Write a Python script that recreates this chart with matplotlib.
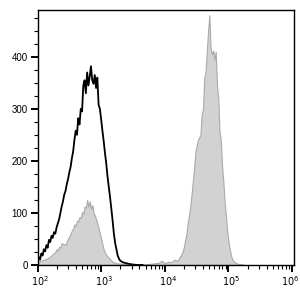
import numpy as np
import matplotlib
matplotlib.use("Agg")
import matplotlib.pyplot as plt
import matplotlib.transforms as mtransforms
from matplotlib.ticker import LogLocator, MultipleLocator, FixedLocator

plt.rcParams['font.family'] = ['Liberation Sans', 'DejaVu Sans']

# black outline histogram (log10 of intensity, count)
black_logx = [2.00, 2.02, 2.04, 2.06, 2.08, 2.10, 2.12, 2.14, 2.16, 2.18, 2.20, 2.22, 2.24, 2.26, 2.28,
              2.30, 2.32, 2.34, 2.36, 2.38, 2.40, 2.42, 2.44, 2.46, 2.48, 2.50, 2.52, 2.54, 2.56, 2.58,
              2.60, 2.62, 2.64, 2.66, 2.68, 2.70, 2.72, 2.74, 2.76, 2.78, 2.80, 2.82, 2.84, 2.86, 2.88,
              2.90, 2.92, 2.94, 2.96, 2.98, 3.00, 3.02, 3.04, 3.06, 3.08, 3.10, 3.12, 3.14, 3.16, 3.18,
              3.20, 3.22, 3.24, 3.26, 3.28, 3.30, 3.34, 3.40, 3.48, 3.55, 3.65]
black_count = [8, 15, 10, 22, 18, 30, 26, 38, 33, 48, 44, 56, 52, 63, 60,
               72, 80, 88, 100, 112, 122, 135, 142, 155, 165, 178, 188, 205, 218, 240,
               258, 250, 282, 270, 300, 295, 345, 355, 330, 370, 345, 362, 382, 355, 348,
               365, 340, 360, 308, 300, 280, 258, 238, 215, 195, 170, 150, 130, 108, 85,
               60, 42, 30, 18, 12, 8, 5, 3, 1, 0, 0]

# grey filled histogram
grey_logx = [2.00, 2.05, 2.10, 2.15, 2.20, 2.25, 2.28, 2.30, 2.32, 2.34, 2.36, 2.38, 2.40, 2.42, 2.44,
             2.46, 2.48, 2.50, 2.52, 2.54, 2.56, 2.58, 2.60, 2.62, 2.64, 2.66, 2.68, 2.70, 2.72, 2.74,
             2.76, 2.78, 2.80, 2.82, 2.84, 2.86, 2.88, 2.90, 2.92, 2.94, 2.96, 2.98, 3.00, 3.02, 3.04,
             3.06, 3.08, 3.10, 3.14, 3.18, 3.25, 3.35, 3.50, 3.70, 3.90, 3.95, 4.00, 4.05, 4.10, 4.15,
             4.20, 4.25, 4.28, 4.30, 4.32, 4.34, 4.36, 4.38, 4.40, 4.42, 4.44, 4.46, 4.48, 4.50, 4.52,
             4.54, 4.56, 4.58, 4.60, 4.62, 4.64, 4.66, 4.68, 4.70, 4.72, 4.74, 4.76, 4.78, 4.80, 4.82,
             4.84, 4.86, 4.88, 4.90, 4.92, 4.94, 4.96, 4.98, 5.00, 5.02, 5.04, 5.06, 5.10, 5.15, 5.25]
grey_count = [5, 8, 10, 12, 16, 22, 25, 30, 28, 35, 33, 42, 40, 40, 38,
              45, 50, 55, 60, 66, 70, 78, 75, 85, 84, 92, 90, 102, 98, 112,
              110, 125, 112, 122, 108, 115, 100, 95, 88, 80, 70, 60, 50, 40, 30,
              24, 19, 16, 11, 6, 3, 2, 1, 1, 4, 8, 3, 6, 5, 10,
              8, 18, 25, 35, 48, 60, 80, 95, 112, 135, 160, 185, 215, 230, 240,
              245, 250, 290, 300, 360, 370, 410, 450, 480, 415, 405, 412, 395, 410, 345,
              320, 255, 240, 190, 160, 120, 95, 65, 45, 30, 18, 10, 5, 2, 0]

decades = [2, 3, 4, 5, 6]
y_major = [0, 100, 200, 300, 400]


def main():
	fig = plt.figure(figsize=(3.0, 2.94), dpi=100)
	ax = fig.add_axes([0.125, 0.099, 0.855, 0.867])

	gx = 10 ** np.array(grey_logx)
	ax.fill_between(gx, 0, grey_count, facecolor="#d2d2d2", edgecolor="#aaaaaa", linewidth=0.8)

	bx = 10 ** np.array(black_logx)
	ax.plot(bx, black_count, color="black", linewidth=1.3)

	ax.set_xscale("log")
	ax.set_xlim(100, 10 ** 6.03)
	ax.set_ylim(0, 490)

	ax.xaxis.set_major_locator(FixedLocator([10.0 ** d for d in decades]))
	ax.set_xticklabels(["$10^{%d}$" % d for d in decades])
	ax.xaxis.set_minor_locator(LogLocator(base=10, subs=np.arange(2, 10), numticks=20))
	ax.yaxis.set_major_locator(FixedLocator(y_major))
	ax.yaxis.set_minor_locator(MultipleLocator(25))

	ax.tick_params(which="major", direction="out", length=5, width=1.4, labelsize=7, pad=2)
	ax.tick_params(which="minor", direction="out", length=3, width=0.8)
	for sp in ax.spines.values():
		sp.set_linewidth(1.0)

	# flow-style labels sit slightly to the right of the tick
	labs = ax.get_xticklabels()
	for i, lab in enumerate(labs):
		dx = 3 if i < len(labs) - 1 else -2
		offset = mtransforms.ScaledTranslation(dx / 100, 0, fig.dpi_scale_trans)
		lab.set_transform(lab.get_transform() + offset)

	fig.savefig("out.png", dpi=100)


if __name__ == "__main__":
	main()
